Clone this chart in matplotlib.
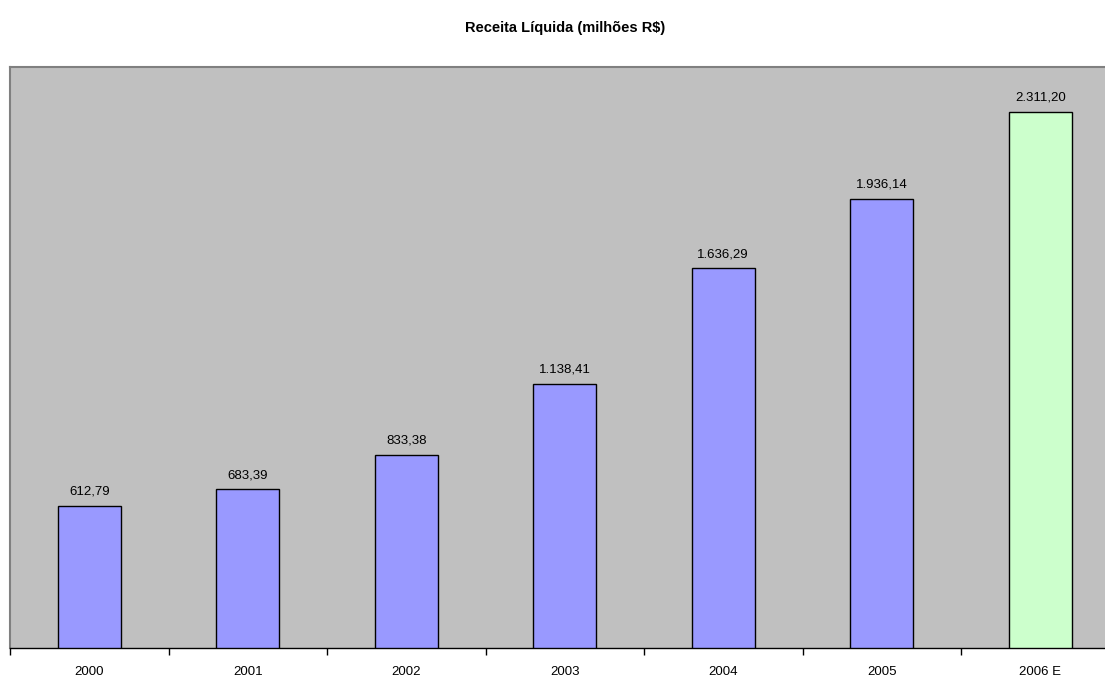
import matplotlib
matplotlib.use("Agg")
import matplotlib.pyplot as plt
import numpy as np

categories = ["2000", "2001", "2002", "2003", "2004", "2005", "2006 E"]
values = [612.79, 683.39, 833.38, 1138.41, 1636.29, 1936.14, 2311.20]
labels = ["612,79", "683,39", "833,38", "1.138,41", "1.636,29", "1.936,14", "2.311,20"]
colors = ["#9999FF"] * 6 + ["#CCFFCC"]

plt.rcParams['font.family'] = ['Liberation Sans', 'DejaVu Sans']

fig = plt.figure(figsize=(11.05, 6.78), dpi=100)
ax = fig.add_axes([10/1105, 30/678, 7*158.5/1105, 581/678])
ax.set_facecolor("#C0C0C0")
x = np.arange(len(categories))
ax.bar(x, values, width=0.40, color=colors, edgecolor="black", linewidth=1.0, zorder=3)
for xi, v, lab in zip(x, values, labels):
    ax.text(xi, v + 36, lab, ha="center", va="bottom", fontsize=9.5, zorder=4)
ax.set_xlim(-0.5, len(categories) - 0.5)
ax.set_ylim(0, 2505)
ax.set_yticks([])
ax.set_xticks(x)
ax.set_xticklabels(categories, fontsize=9.5)
ax.tick_params(axis="x", which="major", length=0, pad=13)
ax.set_xticks(np.arange(-0.5, len(categories) + 0.5, 1), minor=True)
ax.tick_params(axis="x", which="minor", length=5, width=1, color="black", direction="out")
for s in ["left", "top"]:
    ax.spines[s].set_color("#808080")
    ax.spines[s].set_linewidth(1.5)
ax.spines["right"].set_visible(False)
ax.spines["bottom"].set_color("black")
ax.spines["bottom"].set_linewidth(1.0)

fig.text(565/1105, 1 - 28/678, "Receita Líquida (milhões R$)", ha="center", va="center",
         fontsize=10.5, fontweight="bold")

fig.savefig("out.png", dpi=100)
